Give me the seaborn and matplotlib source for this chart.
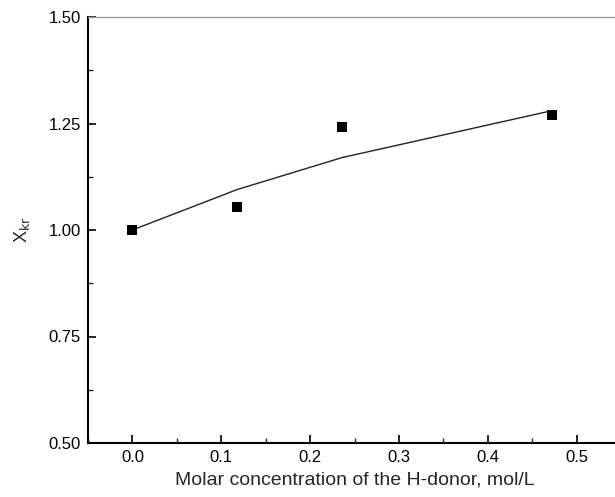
import matplotlib
matplotlib.use("Agg")
import matplotlib.pyplot as plt
import seaborn as sns
import pandas as pd
from matplotlib.ticker import MultipleLocator

# Data
conc_points = [0.0, 0.118, 0.236, 0.472]
xkr_points = [1.000, 1.054, 1.242, 1.270]
conc_fit = [0.0, 0.118, 0.236, 0.472]
xkr_fit = [1.000, 1.095, 1.170, 1.280]

sns.set_theme(style="ticks")
plt.rcParams['font.family'] = ['Liberation Sans', 'DejaVu Sans']

fig = plt.figure(figsize=(6.15, 4.97), dpi=100)
ax = fig.add_axes([88/615, 54/497, 533/615, 426/497])

pts = pd.DataFrame({"x": conc_points, "y": xkr_points})
fit = pd.DataFrame({"x": conc_fit, "y": xkr_fit})

sns.lineplot(data=fit, x="x", y="y", ax=ax, color="#222222", linewidth=1.0, sort=False)
sns.scatterplot(data=pts, x="x", y="y", ax=ax, marker="s", s=45, color="black",
                edgecolor="black", linewidth=0, zorder=3)

ax.set_xlim(-0.05, 0.55)
ax.set_ylim(0.5, 1.5)
ax.xaxis.set_major_locator(MultipleLocator(0.1))
ax.xaxis.set_minor_locator(MultipleLocator(0.05))
ax.yaxis.set_major_locator(MultipleLocator(0.25))
ax.yaxis.set_minor_locator(MultipleLocator(0.125))
ax.xaxis.set_major_formatter(matplotlib.ticker.FormatStrFormatter('%.1f'))
ax.yaxis.set_major_formatter(matplotlib.ticker.FormatStrFormatter('%.2f'))

ax.tick_params(which='major', direction='in', length=6, width=1.2, labelsize=12,
               colors='black', pad=5, top=False, right=False)
ax.tick_params(which='minor', direction='in', length=3.5, width=1.0, top=False, right=False)

for s in ['left', 'bottom']:
    ax.spines[s].set_color('black')
    ax.spines[s].set_linewidth(1.5)
ax.spines['top'].set_color('#999999')
ax.spines['top'].set_linewidth(1.0)
ax.spines['right'].set_color('#999999')
ax.spines['right'].set_linewidth(1.0)

ax.set_xlabel("Molar concentration of the H-donor, mol/L", fontsize=14, labelpad=5)
ax.set_ylabel(r"X$_{\mathrm{kr}}$", fontsize=13, labelpad=12)

fig.savefig("out.png", dpi=100)
